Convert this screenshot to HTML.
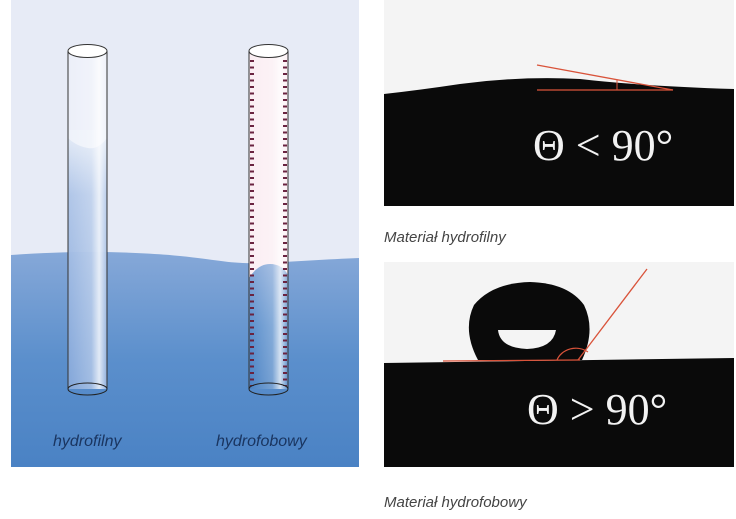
<!DOCTYPE html>
<html><head><meta charset="utf-8"><style>
html,body{margin:0;padding:0;background:#fff;width:736px;height:519px;overflow:hidden}
svg{display:block}
text{font-family:"Liberation Sans",sans-serif}
</style></head><body>
<svg width="736" height="519" viewBox="0 0 736 519" xmlns="http://www.w3.org/2000/svg">
<defs>
<linearGradient id="water" x1="0" y1="0" x2="0" y2="1">
<stop offset="0" stop-color="#86a8d8"/><stop offset="0.5" stop-color="#5b8fcc"/><stop offset="1" stop-color="#4a82c4"/>
</linearGradient>
<linearGradient id="tw" x1="0" y1="0" x2="0" y2="1">
<stop offset="0" stop-color="#e8eef8"/><stop offset="0.25" stop-color="#a9c1e6"/><stop offset="1" stop-color="#7ea3d8"/>
</linearGradient>
<linearGradient id="hl" x1="0" y1="0" x2="1" y2="0">
<stop offset="0" stop-color="#fff" stop-opacity="0"/><stop offset="0.6" stop-color="#fff" stop-opacity="0.25"/><stop offset="0.8" stop-color="#fff" stop-opacity="0.75"/><stop offset="1" stop-color="#fff" stop-opacity="0.1"/>
</linearGradient>
</defs>
<!-- left panel -->
<rect x="11" y="0" width="348" height="467" fill="#e7ebf6"/>
<path d="M11 255 C80 250,140 252,180 256 S230 264,260 263 S330 259,359 258 L359 467 L11 467 Z" fill="url(#water)"/>
<!-- tube 1 -->
<rect x="68" y="51" width="39" height="338" fill="#f1f4fb" fill-opacity="0.5"/>
<path d="M68 130 L107 130 L107 389 L68 389 Z" fill="url(#tw)" opacity="0.9"/>
<path d="M68 130 L107 130 L107 138 Q98 150 88 148 Q76 146 68 138 Z" fill="#eef2fa"/>
<rect x="68" y="51" width="39" height="338" fill="url(#hl)"/>
<line x1="68" y1="51" x2="68" y2="389" stroke="#333" stroke-width="1"/>
<line x1="107" y1="51" x2="107" y2="389" stroke="#333" stroke-width="1"/>
<ellipse cx="87.5" cy="51" rx="19.5" ry="6.5" fill="#fff" stroke="#333"/>
<ellipse cx="87.5" cy="389" rx="19.5" ry="6" fill="none" stroke="#222"/>
<!-- tube 2 -->
<rect x="249" y="51" width="39" height="338" fill="#fbeef3"/>
<path d="M249 389 L249 278 Q258 264 270 264 Q282 264 288 275 L288 389 Z" fill="url(#water)"/>
<rect x="249" y="51" width="39" height="338" fill="url(#hl)"/>
<line x1="252" y1="60" x2="252" y2="386" stroke="#6a2340" stroke-width="4" stroke-dasharray="2 4.5"/>
<line x1="285" y1="60" x2="285" y2="386" stroke="#6a2340" stroke-width="4" stroke-dasharray="2 4.5"/>
<line x1="249" y1="51" x2="249" y2="389" stroke="#333"/>
<line x1="288" y1="51" x2="288" y2="389" stroke="#333"/>
<ellipse cx="268.5" cy="51" rx="19.5" ry="6.5" fill="#fff" stroke="#333"/>
<ellipse cx="268.5" cy="389" rx="19.5" ry="6" fill="none" stroke="#222"/>
<text x="53" y="446" font-size="16" font-style="italic" fill="#1a3560">hydrofilny</text>
<text x="216" y="446" font-size="16" font-style="italic" fill="#1a3560">hydrofobowy</text>
<!-- top right -->
<rect x="384" y="0" width="350" height="206" fill="#f4f4f4"/>
<path d="M384 94 Q420 90 460 84 Q520 76 580 79 Q640 86 734 89 L734 206 L384 206 Z" fill="#0a0a0a"/>
<line x1="537" y1="65" x2="673" y2="90" stroke="#d9533a" stroke-width="1.3"/>
<line x1="537" y1="90" x2="673" y2="90" stroke="#d9533a" stroke-width="1.3"/>
<line x1="617" y1="80" x2="617" y2="90" stroke="#d9533a" stroke-width="1"/>
<text x="533" y="160" font-size="44" fill="#f2f2f2" style="font-family:'Liberation Serif',serif">Θ &lt; 90°</text>
<text x="384" y="242" font-size="15" font-style="italic" fill="#444">Materiał hydrofilny</text>
<!-- bottom right -->
<rect x="384" y="262" width="350" height="205" fill="#f4f4f4"/>
<path d="M384 363 L734 358 L734 467 L384 467 Z" fill="#0a0a0a"/>
<path d="M478 360 Q462 330 474 305 Q492 283 530 282 Q568 283 584 305 Q596 330 582 360 Z" fill="#0a0a0a"/>
<path d="M498 330 L556 330 Q553 348 527 349 Q500 348 498 330 Z" fill="#f4f4f4"/>
<line x1="443" y1="361" x2="580" y2="360" stroke="#d9533a" stroke-width="1.3"/>
<line x1="578" y1="360" x2="647" y2="269" stroke="#d9533a" stroke-width="1.3"/>
<path d="M557 360 A20 18 0 0 1 588 352" fill="none" stroke="#d9533a" stroke-width="1.2"/>
<text x="527" y="424" font-size="44" fill="#f2f2f2" style="font-family:'Liberation Serif',serif">Θ &gt; 90°</text>
<text x="384" y="507" font-size="15" font-style="italic" fill="#444">Materiał hydrofobowy</text>
</svg>
</body></html>
